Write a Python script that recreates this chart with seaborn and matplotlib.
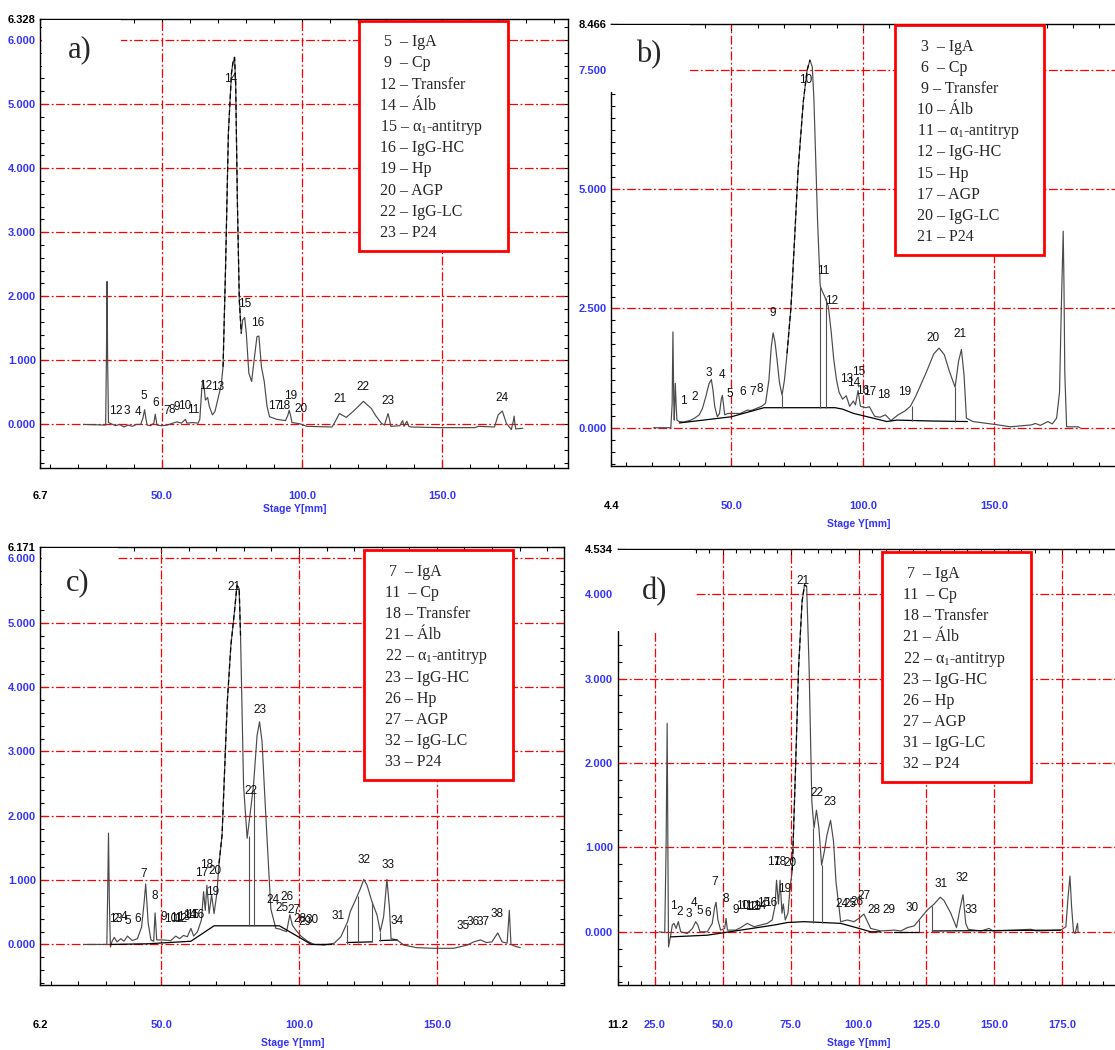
import numpy as np
import pandas as pd
import matplotlib
matplotlib.use("Agg")
import matplotlib.pyplot as plt
import seaborn as sns
from matplotlib.patches import Rectangle
from matplotlib.ticker import MultipleLocator

# ---------------- panel a ----------------
a_x = [22.2, 30.0, 30.3, 30.5, 30.7, 31.0, 32.0, 33.5, 35.0, 36.5, 38.0, 39.5, 41.0, 42.5,
       43.3, 43.9, 44.4, 44.8, 46.0, 47.2, 47.7, 48.1, 48.3, 50.0, 52.0, 54.0, 55.4, 57.0,
       58.5, 59.0, 61.0, 63.0, 63.6, 64.3, 64.7, 65.2, 65.6, 66.4, 67.0, 68.1, 69.0, 70.4,
       71.2, 71.9, 72.8, 73.8, 74.9, 75.4, 76.0, 76.4, 77.0, 77.7, 78.4, 78.9, 79.6, 80.2,
       81.1, 82.1, 83.0, 84.0, 84.7, 85.6, 86.6, 87.6, 88.5, 91.0, 94.2, 95.0, 95.5, 96.0,
       96.5, 99.3, 101.9, 110.8, 112.0, 113.4, 115.9, 118.5, 122.0, 124.8, 126.5, 128.4,
       129.5, 130.3, 130.8, 131.3, 131.8, 135.0, 136.0, 136.5, 137.5, 138.2, 139.0, 149.0,
       161.8, 163.0, 168.8, 170.1, 171.6, 173.0, 174.8, 175.5, 175.8, 176.1, 176.4, 178.9]
a_y = [0.0, -0.01, 1.2, 2.23, 1.0, 0.03, 0.01, -0.02, 0.0, -0.04, -0.01, -0.03, 0.0, 0.0,
       0.1, 0.23, 0.08, -0.01, -0.02, 0.02, 0.16, 0.05, -0.01, -0.02, -0.01, 0.02, 0.04, 0.02,
       0.08, 0.02, 0.03, 0.02, 0.08, 0.55, 0.69, 0.55, 0.38, 0.42, 0.28, 0.15, 0.2, 0.46,
       0.6, 0.9, 2.46, 4.55, 5.48, 5.64, 5.73, 5.33, 3.51, 1.94, 1.42, 1.63, 1.67, 1.42,
       0.8, 0.67, 1.01, 1.37, 1.38, 0.9, 0.67, 0.28, 0.12, 0.08, 0.06, 0.14, 0.22, 0.14,
       0.03, 0.01, -0.03, -0.04, 0.05, 0.17, 0.11, 0.21, 0.36, 0.25, 0.13, 0.02,
       -0.01, 0.1, 0.17, 0.08, -0.03, -0.02, 0.06, -0.03, 0.05, -0.03, -0.04, -0.05,
       -0.05, -0.03, -0.04, 0.15, 0.21, 0.02, -0.08, 0.05, 0.13, 0.0, -0.07, -0.06]
a_base_x, a_base_y, a_base_seg = [], [], []
a_drop_x, a_drop_lo, a_drop_hi = [], [], []
a_peak_num = list(range(1, 25))
a_peak_x = [32.4, 34.7, 37.5, 41.6, 43.6, 47.7, 51.8, 53.7, 55.4, 58.3, 61.1, 65.8, 70.0,
            74.7, 79.7, 84.4, 90.4, 93.6, 96.1, 99.6, 113.6, 122.0, 130.6, 171.4]
a_peak_y = [0.21, 0.21, 0.21, 0.19, 0.45, 0.33, 0.21, 0.22, 0.27, 0.29, 0.23, 0.60, 0.58,
            5.39, 1.88, 1.58, 0.29, 0.28, 0.44, 0.24, 0.39, 0.58, 0.37, 0.42]

# ---------------- panel b ----------------
b_x = [20.4, 27.0, 27.5, 27.8, 28.1, 28.3, 28.7, 29.0, 29.3, 30.2, 32.0, 34.6, 36.0, 37.8,
       39.0, 40.3, 41.5, 42.4, 43.0, 43.7, 44.7, 45.5, 46.2, 46.6, 47.0, 47.5, 48.7, 50.5,
       53.5, 56.1, 57.5, 59.8, 61.5, 63.0, 64.3, 65.2, 65.9, 66.6, 67.4, 68.3, 69.3, 70.2,
       71.2, 72.7, 74.0, 75.4, 77.4, 78.8, 79.9, 80.8, 81.4, 81.9, 82.8, 83.8, 84.6, 85.5,
       86.2, 86.9, 88.0, 88.9, 90.0, 91.0, 92.3, 93.7, 95.0, 96.4, 97.2, 98.2, 99.1, 101.2,
       102.5, 104.5, 106.5, 108.6, 110.7, 113.4, 116.0, 118.1, 120.2, 124.2, 127.0, 129.0,
       131.0, 133.0, 135.1, 136.4, 137.5, 138.5, 139.4, 141.9, 151.4, 156.1, 164.2, 165.6,
       167.5, 170.4, 172.0, 173.7, 174.8, 175.5, 176.2, 176.5, 176.8, 177.5, 181.9, 182.6]
b_y = [0.0, 0.0, 0.5, 2.01, 0.6, 0.16, 0.93, 0.5, 0.16, 0.13, 0.12, 0.16, 0.2, 0.27,
       0.4, 0.65, 0.92, 1.01, 0.8, 0.44, 0.23, 0.3, 0.6, 0.68, 0.5, 0.27, 0.3, 0.3,
       0.3, 0.37, 0.36, 0.41, 0.45, 0.51, 1.0, 1.7, 1.99, 1.8, 1.42, 0.95, 0.68, 1.0,
       1.56, 2.54, 3.9, 5.41, 6.85, 7.49, 7.71, 7.56, 6.9, 5.98, 4.33, 2.97, 2.86, 2.75,
       2.65, 2.54, 2.0, 1.46, 1.0, 0.74, 0.6, 0.67, 0.45, 0.56, 0.48, 0.78, 0.45, 0.42,
       0.44, 0.24, 0.22, 0.27, 0.15, 0.27, 0.35, 0.45, 0.67, 1.17, 1.55, 1.67,
       1.53, 1.17, 0.85, 1.39, 1.64, 1.1, 0.2, 0.13, 0.06, 0.02, 0.06, 0.09,
       0.05, 0.13, 0.08, 0.2, 0.74, 2.54, 4.12, 3.0, 1.17, 0.02, 0.02, 0.0]
b_base_x = [30.2, 50.0, 62.4, 89.5, 92.3, 96.5, 104.0, 109.1, 113.0, 127.0, 139.8]
b_base_y = [0.10, 0.23, 0.42, 0.42, 0.39, 0.30, 0.20, 0.13, 0.16, 0.14, 0.13]
b_base_seg = [0] * 11
b_drop_x = [69.3, 83.9, 85.9, 118.8, 135.1]
b_drop_lo = [0.42, 0.42, 0.42, 0.15, 0.13]
b_drop_hi = [0.68, 2.95, 2.72, 0.45, 0.85]
b_peak_num = list(range(1, 22))
b_peak_x = [31.7, 35.9, 41.5, 46.6, 49.5, 54.4, 58.2, 60.7, 65.9, 78.1, 84.8, 88.3, 93.7,
            96.5, 98.4, 100.0, 102.5, 108.1, 116.0, 126.8, 137.1]
b_peak_y = [0.57, 0.65, 1.15, 1.10, 0.71, 0.75, 0.75, 0.82, 2.41, 7.28, 3.29, 2.65, 1.03,
            0.93, 1.17, 0.78, 0.75, 0.68, 0.75, 1.89, 1.96]

# ---------------- panel c ----------------
c_x = [22.1, 30.3, 30.6, 30.9, 31.2, 31.6, 32.2, 33.0, 34.0, 35.4, 36.5, 37.8, 39.5, 41.4,
       42.9, 43.8, 44.4, 45.3, 46.3, 47.3, 47.8, 48.4, 50.5, 53.5, 55.3, 56.7, 58.1, 59.5,
       60.8, 61.8, 63.2, 64.6, 65.4, 66.0, 66.6, 67.4, 68.3, 69.2, 70.2, 71.0, 72.1, 74.0,
       75.3, 76.6, 77.5, 78.3, 78.8, 79.9, 81.2, 82.5, 83.5, 84.8, 85.7, 86.6, 87.7, 89.0,
       89.8, 91.6, 93.0, 94.0, 95.5, 96.7, 97.6, 98.9, 100.7, 103.1, 105.5, 109.1, 112.8,
       115.2, 117.6, 118.6, 120.5, 122.3, 123.5, 124.7, 126.5, 128.3, 129.5, 130.7, 131.9,
       132.8, 133.4, 135.6, 138.0, 142.8, 148.9, 156.1, 161.0, 163.4, 165.8, 168.0, 170.0,
       172.1, 173.7, 175.5, 176.3, 176.9, 178.5, 180.3]
c_y = [0.0, 0.0, 0.8, 1.73, 0.7, -0.04, 0.05, 0.11, 0.04, 0.09, 0.05, 0.13, 0.06, 0.09,
       0.27, 0.64, 0.94, 0.33, 0.07, 0.05, 0.49, 0.07, 0.07, 0.06, 0.13, 0.09, 0.14, 0.12,
       0.25, 0.13, 0.2, 0.38, 0.82, 0.53, 0.92, 0.48, 0.77, 0.48, 0.79, 1.26, 1.7, 3.77,
       4.65, 5.17, 5.58, 5.53, 4.8, 2.47, 1.65, 2.11, 2.47, 3.25, 3.46, 3.15, 2.22, 1.18,
       0.55, 0.25, 0.24, 0.22, 0.2, 0.46, 0.3, 0.22, 0.13, 0.05, 0.0, -0.01, 0.02,
       0.12, 0.35, 0.51, 0.69, 0.87, 1.01, 0.92, 0.66, 0.46, 0.2, 0.43, 1.01,
       0.58, 0.09, 0.07, -0.01, -0.05, -0.06, -0.06, -0.01, 0.04, 0.07, 0.03, 0.04,
       0.18, 0.04, 0.02, 0.53, 0.0, -0.03, -0.05]
c_base_x = [31.6, 45.0, 60.8, 69.2, 92.9, 104.5, 112.0, 117.4, 126.5, 129.3, 135.6]
c_base_y = [0.0, 0.01, 0.05, 0.29, 0.29, 0.0, 0.0, 0.03, 0.04, 0.06, 0.07]
c_base_seg = [0, 0, 0, 0, 0, 0, 0, 1, 1, 2, 2]
c_drop_x = [81.8, 83.8, 117.4, 121.3, 126.5, 129.3]
c_drop_lo = [0.29, 0.29, 0.0, 0.03, 0.04, 0.06]
c_drop_hi = [1.68, 2.40, 0.31, 0.75, 0.66, 0.20]
c_peak_num = list(range(1, 39))
c_peak_x = [32.3, 33.6, 34.6, 36.6, 38.0, 41.4, 43.8, 47.8, 51.1, 53.3, 55.3, 56.9, 58.3,
            60.2, 61.6, 63.4, 64.6, 66.6, 68.6, 69.5, 76.6, 82.5, 86.0, 90.7, 93.7, 95.8,
            98.2, 100.4, 102.2, 104.9, 114.2, 123.7, 132.2, 135.6, 159.4, 163.1, 166.8, 171.8]
c_peak_y = [0.39, 0.39, 0.39, 0.43, 0.37, 0.39, 1.10, 0.75, 0.42, 0.40, 0.41, 0.40, 0.43,
            0.45, 0.45, 0.45, 1.11, 1.23, 0.82, 1.14, 5.55, 2.38, 3.65, 0.69, 0.57, 0.74,
            0.53, 0.39, 0.35, 0.38, 0.44, 1.31, 1.23, 0.36, 0.28, 0.35, 0.35, 0.47]

# ---------------- panel d ----------------
d_x = [26.6, 28.6, 29.1, 29.5, 29.8, 30.0, 30.8, 31.4, 32.0, 32.8, 33.6, 34.5, 36.9, 38.8,
       40.0, 40.8, 41.6, 44.3, 46.1, 47.0, 47.5, 48.2, 49.2, 50.7, 51.2, 51.7, 54.7, 56.6,
       59.0, 61.5, 63.9, 66.4, 68.2, 69.2, 69.8, 70.5, 71.1, 71.8, 72.3, 73.0, 74.0, 74.8,
       75.6, 76.8, 77.9, 79.2, 80.1, 80.9, 81.8, 82.8, 83.6, 84.5, 85.4, 86.4, 87.4, 88.4,
       89.7, 90.8, 91.7, 93.0, 93.4, 95.9, 98.3, 100.2, 102.0, 103.3, 104.5, 108.2, 113.1,
       115.6, 118.0, 120.5, 122.3, 125.4, 127.9, 130.1, 131.5, 134.0, 136.1, 137.3, 138.5,
       139.5, 140.4, 145.1, 148.1, 149.5, 157.3, 163.5, 165.5, 174.5, 176.4, 177.2, 177.9,
       178.5, 179.2, 179.8, 180.7, 180.9]
d_y = [0.0, -0.01, 1.0, 2.47, 0.8, -0.18, -0.04, 0.08, 0.1, 0.04, 0.12, 0.0, -0.02, 0.04,
       0.12, 0.08, 0.0, 0.0, 0.1, 0.29, 0.35, 0.14, 0.02, 0.04, 0.16, 0.02, 0.02, 0.05,
       0.1, 0.06, 0.08, 0.1, 0.14, 0.3, 0.61, 0.33, 0.61, 0.22, 0.33, 0.14, 0.22, 0.53,
       0.73, 1.94, 3.12, 3.91, 4.11, 4.09, 3.12, 1.54, 1.23, 1.44, 1.23, 0.79, 0.95, 1.15,
       1.32, 1.07, 0.59, 0.24, 0.12, 0.14, 0.12, 0.16, 0.21, 0.12, 0.04, 0.01, 0.02,
       0.01, 0.05, 0.07, 0.14, 0.26, 0.33, 0.41, 0.37, 0.22, 0.05, 0.26, 0.44,
       0.1, 0.03, 0.01, 0.04, 0.01, 0.02, 0.03, 0.01, 0.02, 0.06, 0.41, 0.66,
       0.3, 0.0, -0.02, 0.1, 0.0]
d_base_x = [30.8, 44.3, 56.6, 68.9, 73.8, 79.9, 93.4, 98.0, 104.5, 108.0,
            113.0, 122.3, 127.2, 174.5]
d_base_y = [-0.06, -0.04, 0.02, 0.08, 0.11, 0.12, 0.10, 0.06, 0.0, 0.0,
            0.0, 0.0, 0.01, 0.02]
d_base_seg = [0] * 10 + [1, 1, 2, 2]
d_drop_x = [83.4, 86.4, 122.3, 127.2]
d_drop_lo = [0.11, 0.10, 0.0, 0.01]
d_drop_hi = [1.23, 0.79, 0.14, 0.31]
d_peak_num = list(range(1, 34))
d_peak_x = [31.6, 34.1, 37.3, 39.4, 41.5, 44.3, 47.0, 51.0, 54.7, 57.2, 58.8, 60.5, 61.9,
            63.5, 65.2, 67.6, 68.6, 71.1, 72.8, 74.6, 79.6, 84.7, 89.5, 93.8, 96.7, 99.6,
            102.0, 105.7, 111.2, 119.9, 130.3, 138.1, 141.6]
d_peak_y = [0.30, 0.24, 0.21, 0.34, 0.25, 0.22, 0.59, 0.39, 0.26, 0.30, 0.30, 0.29, 0.29,
            0.30, 0.34, 0.34, 0.83, 0.83, 0.51, 0.81, 4.15, 1.64, 1.54, 0.33, 0.33, 0.35,
            0.42, 0.26, 0.26, 0.28, 0.57, 0.64, 0.26]

# ---------------- legends ----------------
ALPHA = "α$_{\\mathrm{1}}$-antitryp"
a_legend = [" 5  – IgA", " 9  – Cp", "12 – Transfer", "14 – Álb", "15 – " + ALPHA,
            "16 – IgG-HC", "19 – Hp", "20 – AGP", "22 – IgG-LC", "23 – P24"]
b_legend = [" 3  – IgA", " 6  – Cp", " 9 – Transfer", "10 – Álb", "11 – " + ALPHA,
            "12 – IgG-HC", "15 – Hp", "17 – AGP", "20 – IgG-LC", "21 – P24"]
c_legend = [" 7  – IgA", "11  – Cp", "18 – Transfer", "21 – Álb", "22 – " + ALPHA,
            "23 – IgG-HC", "26 – Hp", "27 – AGP", "32 – IgG-LC", "33 – P24"]
d_legend = [" 7  – IgA", "11  – Cp", "18 – Transfer", "21 – Álb", "22 – " + ALPHA,
            "23 – IgG-HC", "26 – Hp", "27 – AGP", "31 – IgG-LC", "32 – P24"]

# ---------------- style ----------------
W, H = 1115, 1050
BLUE = "#3333ff"
RED = "#ff0000"
NARROW = ["Liberation Sans Narrow", "Liberation Sans", "DejaVu Sans"]
SERIF = ["Liberation Serif", "DejaVu Serif"]
GRID_LS = (0, (7, 2, 1.5, 2))

sns.set_theme(style="white")
plt.rcParams["font.family"] = NARROW
plt.rcParams["mathtext.fontset"] = "custom"
plt.rcParams["mathtext.rm"] = "Liberation Serif"
plt.rcParams["mathtext.it"] = "Liberation Serif:italic"
plt.rcParams["axes.unicode_minus"] = False

panels = [
    dict(tx=a_x, ty=a_y, bx=a_base_x, by=a_base_y, bs=a_base_seg,
         dx=a_drop_x, dlo=a_drop_lo, dhi=a_drop_hi,
         pn=a_peak_num, px=a_peak_x, py=a_peak_y, legend=a_legend, letter="a)",
         rect=(40.4, 19, 568.2, 468), xlim=(6.7, 195.1), ylim=(-0.68, 6.328),
         xticks=[6.7, 50, 100, 150], xtl=["6.7", "50.0", "100.0", "150.0"],
         yticks=[0, 1, 2, 3, 4, 5, 6, 6.328],
         ytl=["0.000", "1.000", "2.000", "3.000", "4.000", "5.000", "6.000", "6.328"],
         xgrid=[50, 100, 150], ygrid=[0, 1, 2, 3, 4, 5, 6], xminor=10, yminor=0.2,
         xpad=16.5, main=(71.5, 78.5), right=True,
         box=(359, 21, 508, 250.7), tx0=380, ty0=41, ty1=231.7,
         let=(67.9, 50), mask=(41.5, 19.6, 121, 75),
         xlab=(295, 509)),
    dict(tx=b_x, ty=b_y, bx=b_base_x, by=b_base_y, bs=b_base_seg,
         dx=b_drop_x, dlo=b_drop_lo, dhi=b_drop_hi,
         pn=b_peak_num, px=b_peak_x, py=b_peak_y, legend=b_legend, letter="b)",
         rect=(611.4, 23.9, 1115, 465.9), xlim=(4.4, 195.9), ylim=(-0.80, 8.466),
         xticks=[4.4, 50, 100, 150], xtl=["4.4", "50.0", "100.0", "150.0"],
         yticks=[0, 2.5, 5, 7.5, 8.466],
         ytl=["0.000", "2.500", "5.000", "7.500", "8.466"],
         xgrid=[50, 100, 150], ygrid=[0, 2.5, 5, 7.5], xminor=10, yminor=0.25,
         xpad=25, main=(70.5, 80.5), right=False,
         box=(895.4, 24.9, 1044.3, 254.6), tx0=916.8, ty0=46, ty1=235.5,
         let=(636.4, 54.6), mask=(609.5, 24.5, 690, 92),
         xlab=(858.6, 524)),
    dict(tx=c_x, ty=c_y, bx=c_base_x, by=c_base_y, bs=c_base_seg,
         dx=c_drop_x, dlo=c_drop_lo, dhi=c_drop_hi,
         pn=c_peak_num, px=c_peak_x, py=c_peak_y, legend=c_legend, letter="c)",
         rect=(40.4, 547.3, 563.9, 985), xlim=(6.2, 196.1), ylim=(-0.63, 6.171),
         xticks=[6.2, 50, 100, 150], xtl=["6.2", "50.0", "100.0", "150.0"],
         yticks=[0, 1, 2, 3, 4, 5, 6, 6.171],
         ytl=["0.000", "1.000", "2.000", "3.000", "4.000", "5.000", "6.000", "6.171"],
         xgrid=[50, 100, 150], ygrid=[0, 1, 2, 3, 4, 5, 6], xminor=10, yminor=0.2,
         xpad=25, main=(71.0, 79.0), right=True,
         box=(364.3, 550, 512.5, 780), tx0=385, ty0=570.7, ty1=761,
         let=(65.4, 583), mask=(41.5, 548, 118, 600),
         xlab=(293, 1043)),
    dict(tx=d_x, ty=d_y, bx=d_base_x, by=d_base_y, bs=d_base_seg,
         dx=d_drop_x, dlo=d_drop_lo, dhi=d_drop_hi,
         pn=d_peak_num, px=d_peak_x, py=d_peak_y, legend=d_legend, letter="d)",
         rect=(617.5, 549, 1115, 985), xlim=(11.2, 194.5), ylim=(-0.63, 4.534),
         xticks=[11.2, 25, 50, 75, 100, 125, 150, 175],
         xtl=["11.2", "25.0", "50.0", "75.0", "100.0", "125.0", "150.0", "175.0"],
         yticks=[0, 1, 2, 3, 4, 4.534],
         ytl=["0.000", "1.000", "2.000", "3.000", "4.000", "4.534"],
         xgrid=[25, 50, 75, 100, 125, 150, 175], ygrid=[0, 1, 2, 3, 4],
         xminor=5, yminor=0.2,
         xpad=25, main=(75.5, 81.5), right=False,
         box=(882.1, 551.7, 1031, 781.7), tx0=903.2, ty0=573, ty1=762.7,
         let=(641.8, 591.7), mask=(615.5, 549.5, 694, 631),
         xlab=(858.6, 1043)),
]

fig = plt.figure(figsize=(W / 100, H / 100), dpi=100)


def fig_rect(x0, y0, x1, y1):
    return (x0 / W, 1 - y1 / H, (x1 - x0) / W, (y1 - y0) / H)


for p in panels:
    ax = fig.add_axes(fig_rect(*p["rect"]))
    ax.set_facecolor("white")

    for yv in p["ygrid"]:
        ax.axhline(yv, color=RED, lw=0.9, ls=GRID_LS, zorder=1)
    for xv in p["xgrid"]:
        ax.axvline(xv, color=RED, lw=0.9, ls=GRID_LS, zorder=1)

    trace = pd.DataFrame({"x": p["tx"], "y": p["ty"]})
    sns.lineplot(data=trace, x="x", y="y", sort=False, estimator=None,
                 color="#4a4a4a", lw=0.85, ax=ax, zorder=3)
    lo, hi = p["main"]
    peak = trace[(trace.x >= lo) & (trace.x <= hi)]
    sns.lineplot(data=peak, x="x", y="y", sort=False, estimator=None,
                 color="black", lw=0.9, linestyle=(0, (4, 2.5)), ax=ax, zorder=4)

    if p["bx"]:
        base = pd.DataFrame({"x": p["bx"], "y": p["by"], "seg": p["bs"]})
        sns.lineplot(data=base, x="x", y="y", units="seg", sort=False,
                     estimator=None, color="black", lw=0.9, ax=ax, zorder=3)
    if p["dx"]:
        ax.vlines(p["dx"], p["dlo"], p["dhi"], color="#505050", lw=0.8, zorder=3)

    for n, xv, yv in zip(p["pn"], p["px"], p["py"]):
        ax.text(xv, yv, str(n), ha="center", va="center", fontsize=8.5,
                family=NARROW, color="#111111", zorder=5)

    ax.set_xlim(*p["xlim"])
    ax.set_ylim(*p["ylim"])
    ax.set_xlabel("")
    ax.set_ylabel("")
    ax.set_xticks(p["xticks"])
    ax.set_xticklabels(p["xtl"])
    ax.set_yticks(p["yticks"])
    ax.set_yticklabels(p["ytl"])
    for i, lab in enumerate(ax.get_xticklabels()):
        lab.set_color("black" if i == 0 else BLUE)
        lab.set_fontfamily(NARROW)
        lab.set_fontweight("bold")
    nY = len(p["yticks"])
    for i, lab in enumerate(ax.get_yticklabels()):
        lab.set_color("black" if i == nY - 1 else BLUE)
        lab.set_fontfamily(NARROW)
        lab.set_fontweight("bold")
    ax.xaxis.set_minor_locator(MultipleLocator(p["xminor"]))
    ax.yaxis.set_minor_locator(MultipleLocator(p["yminor"]))
    ax.tick_params(which="both", direction="in", bottom=True, left=True,
                   top=True, right=p["right"], color="black", width=0.8)
    ax.tick_params(which="major", length=5)
    ax.tick_params(which="minor", length=3)
    ax.tick_params(axis="x", which="major", pad=p["xpad"], labelsize=8)
    ax.tick_params(axis="y", which="major", pad=3.3, labelsize=8)
    for name, sp in ax.spines.items():
        sp.set_color("black")
        sp.set_linewidth(1.0)
    ax.spines["right"].set_visible(p["right"])

    # white patch behind the panel letter
    m = fig_rect(*p["mask"])
    fig.add_artist(Rectangle(m[:2], m[2], m[3], transform=fig.transFigure,
                             facecolor="white", edgecolor="none", zorder=4))
    fig.text(p["let"][0] / W, 1 - p["let"][1] / H, p["letter"], fontsize=22,
             family=SERIF, ha="left", va="center", zorder=6)

    # red legend box
    r = fig_rect(*p["box"])
    fig.add_artist(Rectangle(r[:2], r[2], r[3], transform=fig.transFigure,
                             facecolor="white", edgecolor=RED, lw=2.0, zorder=5))
    for line, yl in zip(p["legend"], np.linspace(p["ty0"], p["ty1"], len(p["legend"]))):
        fig.text(p["tx0"] / W, 1 - (yl + 5.2) / H, line, fontsize=11.5,
                 family=SERIF, ha="left", va="baseline", zorder=6)

    fig.text(p["xlab"][0] / W, 1 - p["xlab"][1] / H, "Stage Y[mm]", color=BLUE,
             fontsize=7.5, family=NARROW, fontweight="bold", ha="center",
             va="center", zorder=6)

fig.savefig("out.png", dpi=100, facecolor="white")
